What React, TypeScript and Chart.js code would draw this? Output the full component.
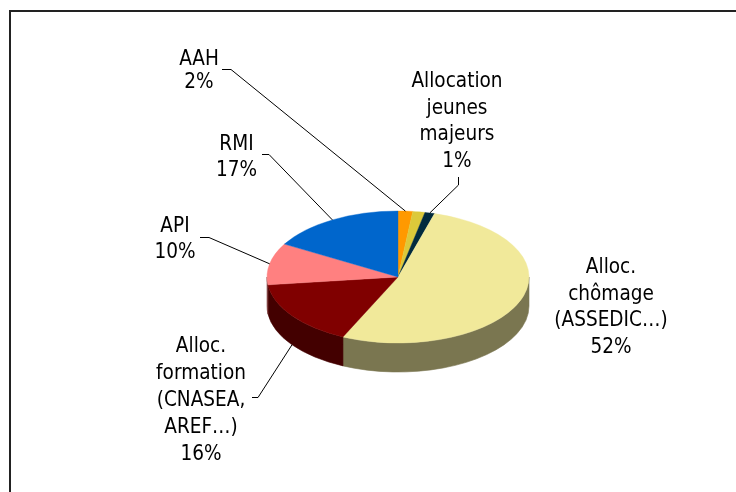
import React, { useEffect, useRef } from "react";
import { Chart, registerables } from "chart.js";

Chart.register(...registerables);

// ---- data ----
const categories = [
  "AAH",
  "Autres",
  "Allocation jeunes majeurs",
  "Alloc. chômage (ASSEDIC…)",
  "Alloc. formation (CNASEA, AREF…)",
  "API",
  "RMI",
];
const labelLines: string[][] = [
  ["AAH"],
  [],
  ["Allocation", "jeunes", "majeurs"],
  ["Alloc.", "chômage", "(ASSEDIC…)"],
  ["Alloc.", "formation", "(CNASEA,", "AREF…)"],
  ["API"],
  ["RMI"],
];
const values = [1.8, 1.5, 1.2, 52.4, 16.2, 10.2, 16.7];

// ---- styles ----
const topColors = ["#FF9900", "#DCC93A", "#022B3E", "#F1E99A", "#800000", "#FF8080", "#0066CC"];
const sideColors = ["#804D00", "#6E651D", "#01151F", "#7A7650", "#430000", "#804040", "#003366"];

// ---- layout ----
const GEOM = { cx: 398, cy: 277, rx: 131, ry: 66, depth: 29 };
const FONT = '18.5px "DejaVu Sans", Verdana, sans-serif';
const TEXT_VSCALE = 1.12;
type LabelLayout = {
  x: number;
  y: number;
  step: number;
  lead: number[][] | null;
  deep?: boolean;
} | null;
const LABEL_LAYOUT: LabelLayout[] = [
  { x: 199, y: 65, step: 22.5, lead: [[222, 69.5], [231, 69.5]] },
  null,
  { x: 457, y: 87, step: 26.5, lead: [[458.5, 177], [458.5, 185]] },
  { x: 611, y: 273, step: 26.7, lead: null },
  { x: 201, y: 352, step: 27, lead: [[252, 397.5], [258, 397.5]], deep: true },
  { x: 175, y: 232, step: 26, lead: [[200, 237.5], [209, 237.5]] },
  { x: 236.5, y: 150, step: 26, lead: [[262, 154.5], [269, 154.5]] },
];

const pie3d = {
  id: "pie3d",
  beforeDraw(chart: any) {
    const ctx = chart.ctx;
    ctx.save();
    ctx.fillStyle = "#fff";
    ctx.fillRect(0, 0, chart.width, chart.height);
    ctx.strokeStyle = "#222";
    ctx.lineWidth = 2;
    ctx.beginPath();
    ctx.moveTo(10, chart.height);
    ctx.lineTo(10, 11);
    ctx.lineTo(chart.width, 11);
    ctx.stroke();
    ctx.restore();
  },
  beforeDatasetsDraw(chart: any) {
    const ctx = chart.ctx;
    const arcs = chart.getDatasetMeta(0).data;
    const { cx, cy, rx, ry, depth } = GEOM;
    arcs.forEach((arc: any, i: number) => {
      const a1 = Math.max(arc.startAngle, 0);
      const a2 = Math.min(arc.endAngle, Math.PI);
      if (a2 <= a1) return;
      ctx.save();
      ctx.beginPath();
      ctx.ellipse(cx, cy, rx, ry, 0, a1, a2);
      ctx.ellipse(cx, cy + depth, rx, ry, 0, a2, a1, true);
      ctx.closePath();
      ctx.fillStyle = sideColors[i];
      ctx.fill();
      ctx.strokeStyle = sideColors[i];
      ctx.lineWidth = 0.6;
      ctx.stroke();
      ctx.restore();
    });
    const el = arcs[0];
    const R = el.outerRadius;
    ctx.save();
    ctx.translate(cx, cy);
    ctx.scale(rx / R, ry / R);
    ctx.translate(-el.x, -el.y);
  },
  afterDatasetsDraw(chart: any) {
    chart.ctx.restore();
  },
  afterDraw(chart: any) {
    const ctx = chart.ctx;
    const arcs = chart.getDatasetMeta(0).data;
    const { cx, cy, rx, ry, depth } = GEOM;
    const total = values.reduce((a, b) => a + b, 0);
    ctx.save();
    ctx.font = FONT;
    ctx.fillStyle = "#000";
    ctx.textAlign = "center";
    ctx.textBaseline = "alphabetic";
    LABEL_LAYOUT.forEach((lay, i) => {
      if (!lay) return;
      const lines = [...labelLines[i], Math.round((values[i] / total) * 100) + "%"];
      lines.forEach((t, j) => {
        ctx.save();
        ctx.translate(lay.x, lay.y + j * lay.step);
        ctx.scale(1, TEXT_VSCALE);
        ctx.fillText(t, 0, 0);
        ctx.restore();
      });
      if (lay.lead) {
        const arc = arcs[i];
        const mid = (arc.startAngle + arc.endAngle) / 2;
        const ax = cx + rx * Math.cos(mid);
        const ay = cy + ry * Math.sin(mid) + (lay.deep ? depth : 0);
        ctx.beginPath();
        ctx.strokeStyle = "#000";
        ctx.lineWidth = 1;
        ctx.moveTo(lay.lead[0][0], lay.lead[0][1]);
        ctx.lineTo(lay.lead[1][0], lay.lead[1][1]);
        ctx.lineTo(ax, ay);
        ctx.stroke();
      }
    });
    ctx.restore();
  },
};

export default function App() {
  const ref = useRef<HTMLCanvasElement>(null);
  useEffect(() => {
    if (!ref.current) return;
    const chart = new Chart(ref.current, {
      type: "pie",
      data: {
        labels: categories,
        datasets: [
          {
            data: values,
            backgroundColor: topColors,
            borderColor: topColors,
            borderWidth: 1,
            clip: false as any,
          },
        ],
      },
      options: {
        responsive: false,
        animation: false,
        devicePixelRatio: 1,
        layout: { padding: 0 },
        plugins: {
          legend: { display: false },
          tooltip: { enabled: false },
          title: { display: false },
        },
      },
      plugins: [pie3d],
    });
    return () => chart.destroy();
  }, []);
  return (
    <div style={{ position: "fixed", left: 0, top: 0, width: 736, height: 492, background: "#fff" }}>
      <canvas ref={ref} width={736} height={492} style={{ display: "block" }} />
    </div>
  );
}
